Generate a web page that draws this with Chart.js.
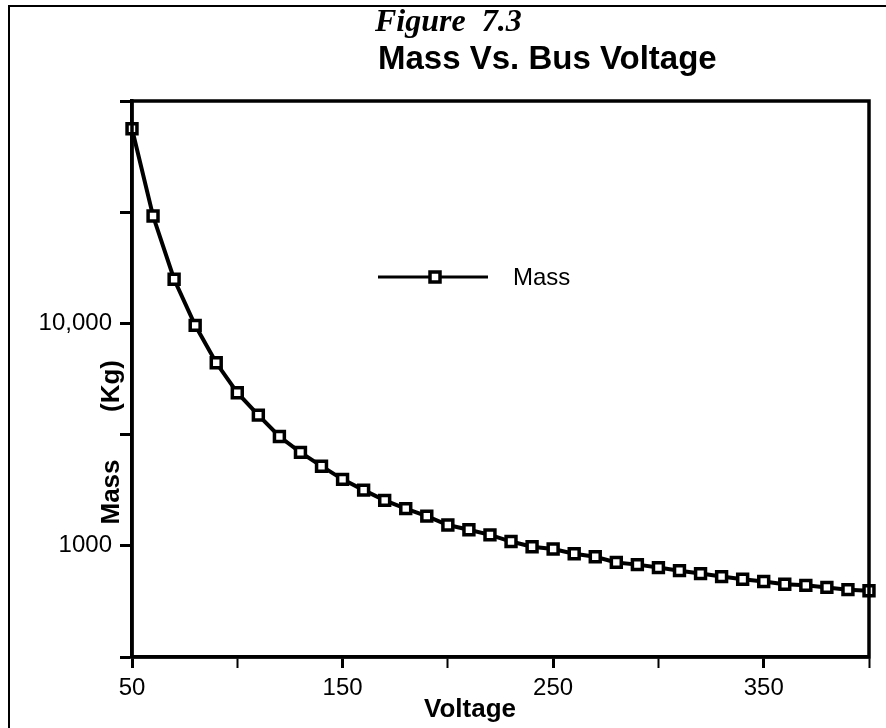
<!DOCTYPE html>
<html>
<head>
<meta charset="utf-8">
<title>Mass Vs. Bus Voltage</title>
<script src="https://cdn.jsdelivr.net/npm/chart.js@4.4.1/dist/chart.umd.min.js"></script>
<style>
    html, body { margin: 0; padding: 0; background: #ffffff; }
    #massChart { display: block; }
</style>
</head>
<body>
<canvas id="massChart" width="886" height="728"></canvas>
<script>
// bus voltage (x values)
const voltage = [50, 60, 70, 80, 90, 100, 110, 120, 130, 140, 150, 160, 170, 180, 190, 200, 210, 220,
    230, 240, 250, 260, 270, 280, 290, 300, 310, 320, 330, 340, 350, 360, 370, 380, 390, 400];

// system mass in Kg for every voltage above
const mass = [75000, 30400, 15800, 9800, 6650, 4880, 3870, 3100, 2630, 2280, 1990, 1780, 1600, 1470,
    1360, 1240, 1180, 1120, 1045, 990, 968, 921, 893, 842, 823, 798, 773, 750, 727, 707, 691, 672,
    664, 650, 635, 628];

// tick positions and the labels shown on them
const xTicksLabelled = [50, 150, 250, 350];
const yTickValues = [316.2278, 1000, 3162.278, 10000, 31622.78, 100000];
const yTickLabels = { 1000: "1000", 10000: "10,000" };

// titles and legend text
const figureLabel = "Figure  7.3";
const chartTitle = "Mass Vs. Bus Voltage";
const seriesName = "Mass";
const xTitle = "Voltage";
const yTitleParts = ["Mass", "(Kg)"];

const ctx = document.getElementById('massChart').getContext('2d');

// builds the {x, y} points from the two arrays
function buildPoints() {
    return voltage.map((v, i) => ({ x: v, y: mass[i] }));
}

// white page, the thin scanned frame, the plot box and all the loose text
const decorPlugin = {
    id: 'decor',
    beforeDraw(chart) {
        const c = chart.ctx;
        c.save();
        c.fillStyle = '#ffffff';
        c.fillRect(0, 0, chart.width, chart.height);
        c.strokeStyle = '#000';
        c.lineWidth = 2;
        c.beginPath();
        c.moveTo(9, chart.height);
        c.lineTo(9, 6);
        c.lineTo(chart.width, 6);
        c.stroke();
        c.restore();
    },
    afterDraw(chart) {
        const c = chart.ctx,
            area = chart.chartArea;
        c.save();

        // plot frame
        c.strokeStyle = '#000';
        c.lineWidth = 3.5;
        c.strokeRect(area.left, area.top, area.right - area.left, area.bottom - area.top);

        // titles
        c.fillStyle = '#000';
        c.textBaseline = 'alphabetic';
        c.textAlign = 'left';
        c.font = 'italic bold 32px "Liberation Serif", "Times New Roman", serif';
        c.fillText(figureLabel, 375, 31);
        c.font = 'bold 33px "Liberation Sans", Arial, sans-serif';
        c.fillText(chartTitle, 378, 69);

        // legend inside the plot
        c.lineWidth = 3;
        c.beginPath();
        c.moveTo(378, 277);
        c.lineTo(488, 277);
        c.stroke();
        c.fillStyle = '#fff';
        c.lineWidth = 3.5;
        c.fillRect(430, 272, 10, 10);
        c.strokeRect(430, 272, 10, 10);
        c.fillStyle = '#000';
        c.font = '24px "Liberation Sans", Arial, sans-serif';
        c.fillText(seriesName, 513, 285);

        // axis titles
        c.font = 'bold 26px "Liberation Sans", Arial, sans-serif';
        c.textAlign = 'center';
        c.fillText(xTitle, 470, 717);
        c.translate(119, 0);
        c.rotate(-Math.PI / 2);
        c.fillText(yTitleParts[0], -492, 0);
        c.fillText(yTitleParts[1], -386, 0);
        c.restore();
    }
};

const tickFont = { family: '"Liberation Sans", Arial, sans-serif', size: 24 };

const massChart = new Chart(ctx, {
    type: 'line',
    data: {
        datasets: [{
            label: seriesName,
            data: buildPoints(),
            borderColor: '#000',
            borderWidth: 4,
            tension: 0,
            clip: false,
            pointStyle: 'rect',
            pointRadius: 7,
            pointHoverRadius: 7,
            pointBorderWidth: 3.5,
            pointBorderColor: '#000',
            pointBackgroundColor: '#fff'
        }]
    },
    options: {
        responsive: false,
        animation: false,
        events: [],
        layout: {
            padding: { left: 22, top: 101, right: 17, bottom: 21 }
        },
        plugins: {
            legend: { display: false },
            title: { display: false },
            tooltip: { enabled: false }
        },
        scales: {
            x: {
                type: 'linear',
                min: 50,
                max: 400,
                afterFit: (scale) => { scale.height = 50; },
                border: { display: true, color: '#000', width: 3.5 },
                grid: {
                    drawOnChartArea: false,
                    color: '#000',
                    tickLength: 11,
                    tickWidth: (c) => xTicksLabelled.includes(c.tick && c.tick.value) ? 3 : 2
                },
                ticks: {
                    stepSize: 50,
                    color: '#000',
                    font: tickFont,
                    padding: 6,
                    maxRotation: 0,
                    autoSkip: false,
                    callback: (value) => xTicksLabelled.includes(value) ? String(value) : ''
                }
            },
            y: {
                type: 'logarithmic',
                min: 316.2278,
                max: 100000,
                bounds: 'data',
                afterFit: (scale) => { scale.width = 110; },
                afterBuildTicks: (scale) => {
                    scale.ticks = yTickValues.map(v => ({ value: v }));
                },
                border: { display: true, color: '#000', width: 3.5 },
                grid: {
                    drawOnChartArea: false,
                    color: '#000',
                    tickLength: 12,
                    tickWidth: 3
                },
                ticks: {
                    color: '#000',
                    font: tickFont,
                    padding: 8,
                    autoSkip: false,
                    callback: (value) => yTickLabels[value] || ''
                }
            }
        }
    },
    plugins: [decorPlugin]
});
</script>
</body>
</html>
